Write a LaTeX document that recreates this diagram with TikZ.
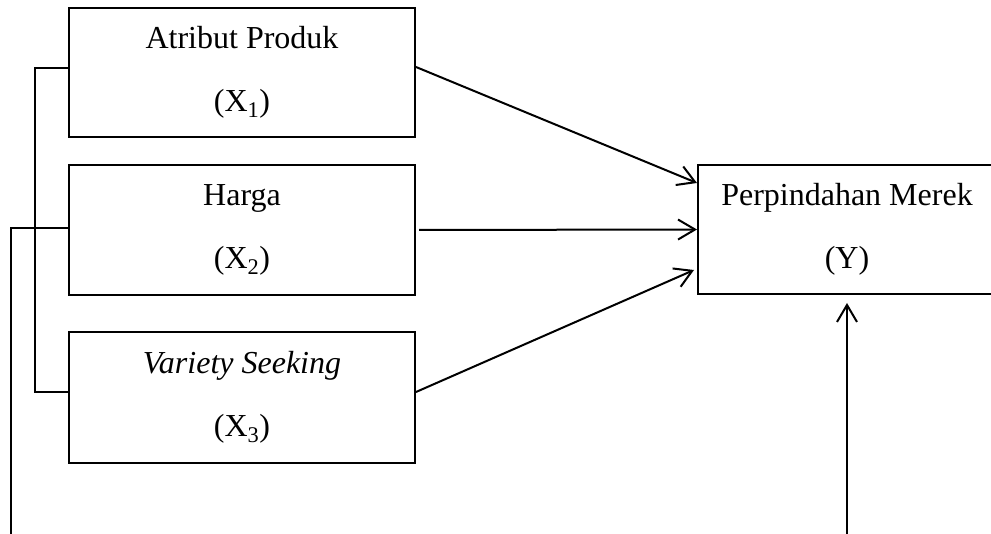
\documentclass[tikz,border=0pt]{standalone}
\usepackage{fontspec}
\setmainfont{Liberation Serif}
\usetikzlibrary{arrows.meta}
\tikzset{
  varbox/.style={draw, line width=2pt, minimum width=346pt, align=center,
    font=\fontsize{32}{63}\selectfont, inner sep=0pt},
  link/.style={line width=2pt},
  arr/.style={line width=2pt, -{Straight Barb[length=17pt,width=20pt,line width=2pt]}}
}
\begin{document}
\begin{tikzpicture}[x=1pt,y=-1pt]
\useasboundingbox (0,0) rectangle (991,534);
\clip (0,0) rectangle (991,534);
% independent variables
\node[varbox, minimum height=129pt] (x1) at (242,72.5) {Atribut Produk\\(X\textsubscript{1})};
\node[varbox, minimum height=130pt] (x2) at (242,230) {Harga\\(X\textsubscript{2})};
\node[varbox, minimum height=131pt] (x3) at (242,397.5) {\textit{Variety Seeking}\\(X\textsubscript{3})};
% dependent variable
\node[varbox, minimum width=298pt, minimum height=129pt] (y) at (847,229.5) {Perpindahan Merek\\(Y)};
% free ends at the lower edge
\coordinate (leftend) at (11,534);
\coordinate (bottomstart) at (847,534);
% bracket joining X1 and X3
\draw[link] ([yshift=4.5pt]x1.west) -- ++(-33,0) |- ([yshift=5.5pt]x3.west);
% line from X2 down the left side
\draw[link] ([yshift=2pt]x2.west) -| (leftend);
% paths into Y
\draw[arr] ([yshift=5.5pt]x1.east) -- ([yshift=46.5pt]y.west);
\draw[arr] ([xshift=3pt]x2.east) -- (y.west);
\draw[arr] ([yshift=5.5pt]x3.east) -- ([xshift=-3pt,yshift=-40.5pt]y.west);
\draw[arr] (bottomstart) -- ([yshift=-8pt]y.south);
\end{tikzpicture}
\end{document}
